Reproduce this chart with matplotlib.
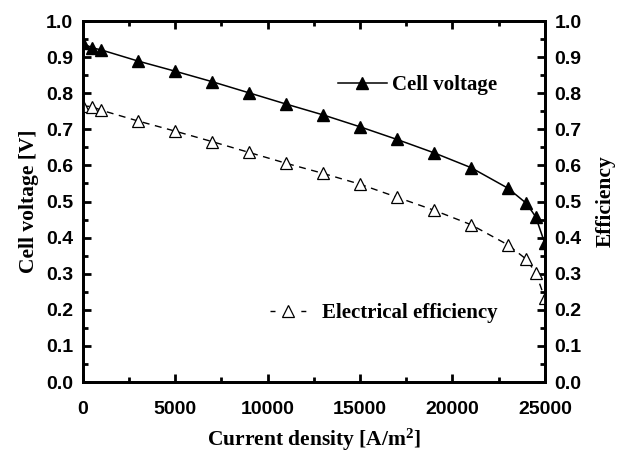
import matplotlib
matplotlib.use("Agg")
import matplotlib.pyplot as plt
from matplotlib.ticker import MultipleLocator, FormatStrFormatter
from matplotlib.lines import Line2D

# data
current = [0, 500, 1000, 3000, 5000, 7000, 9000, 11000, 13000, 15000,
           17000, 19000, 21000, 23000, 24000, 24500, 25000]
voltage = [0.938, 0.926, 0.920, 0.889, 0.861, 0.832, 0.801, 0.770, 0.740,
           0.707, 0.672, 0.635, 0.594, 0.537, 0.495, 0.458, 0.384]
efficiency = [0.765, 0.763, 0.753, 0.723, 0.695, 0.666, 0.636, 0.606, 0.578,
              0.548, 0.512, 0.476, 0.436, 0.380, 0.340, 0.303, 0.232]

plt.rcParams['font.family'] = 'Liberation Sans'
plt.rcParams['font.weight'] = 'bold'
plt.rcParams['font.size'] = 14
plt.rcParams['mathtext.fontset'] = 'custom'
plt.rcParams['mathtext.bf'] = 'Liberation Serif:bold'
plt.rcParams['mathtext.rm'] = 'Liberation Serif:bold'
plt.rcParams['mathtext.default'] = 'bf'

label_font = {'family': 'Liberation Serif', 'weight': 'bold', 'size': 15.5}

fig = plt.figure(figsize=(6.22, 4.57), dpi=100)
ax = fig.add_axes([0.133, 0.164, 0.743, 0.790])
ax2 = ax.twinx()

ax.plot(current, voltage, color='black', lw=1.1, marker='^', ms=9,
        mfc='black', mec='black')
ax2.plot(current, efficiency, color='black', lw=1.0, ls=(0, (5, 4)),
         marker='^', ms=9, mfc='white', mec='black', mew=0.9)

for a in (ax, ax2):
    a.set_xlim(0, 25000)
    a.set_ylim(0, 1.0)
    a.yaxis.set_major_locator(MultipleLocator(0.1))
    a.yaxis.set_minor_locator(MultipleLocator(0.05))
    a.yaxis.set_major_formatter(FormatStrFormatter('%.1f'))
    for s in a.spines.values():
        s.set_linewidth(2)

ax.xaxis.set_major_locator(MultipleLocator(5000))
ax.xaxis.set_minor_locator(MultipleLocator(2500))
ax.tick_params(which='both', direction='in', top=True, right=False, width=2)
ax.tick_params(which='major', length=6)
ax.tick_params(axis='x', which='major', pad=14)
ax.tick_params(axis='y', which='major', pad=7)
ax.tick_params(which='minor', length=3.5)
ax2.tick_params(which='both', direction='in', width=2)
ax2.tick_params(which='major', length=6, pad=7)
ax2.tick_params(which='minor', length=3.5)

ax.set_xlabel('Current density [A/m$^2$]', fontdict=label_font, labelpad=6)
ax.set_ylabel('Cell voltage [V]', fontdict=label_font, labelpad=5)
ax2.set_ylabel('Efficiency', fontdict=label_font, rotation=90, labelpad=10)

h1 = Line2D([], [], color='black', lw=1.1, marker='^', ms=9, mfc='black')
h2 = Line2D([], [], color='black', lw=1.0, ls=(0, (3.6, 18.6)), marker='^',
            ms=9, mfc='white', mec='black', mew=0.9)
leg_font = {'family': 'Liberation Serif', 'weight': 'bold', 'size': 15}
l1 = ax2.legend([h1], ['Cell voltage'], loc='center left',
                bbox_to_anchor=(0.552, 0.823), frameon=False, prop=leg_font,
                borderpad=0, borderaxespad=0,
                handlelength=2.35, handletextpad=0.25)
ax2.add_artist(l1)
ax2.legend([h2], ['Electrical efficiency'], loc='center left',
           bbox_to_anchor=(0.405, 0.19), frameon=False, prop=leg_font,
           borderpad=0, borderaxespad=0,
           handlelength=1.75, handletextpad=0.75)

fig.savefig('out.png', dpi=100)
